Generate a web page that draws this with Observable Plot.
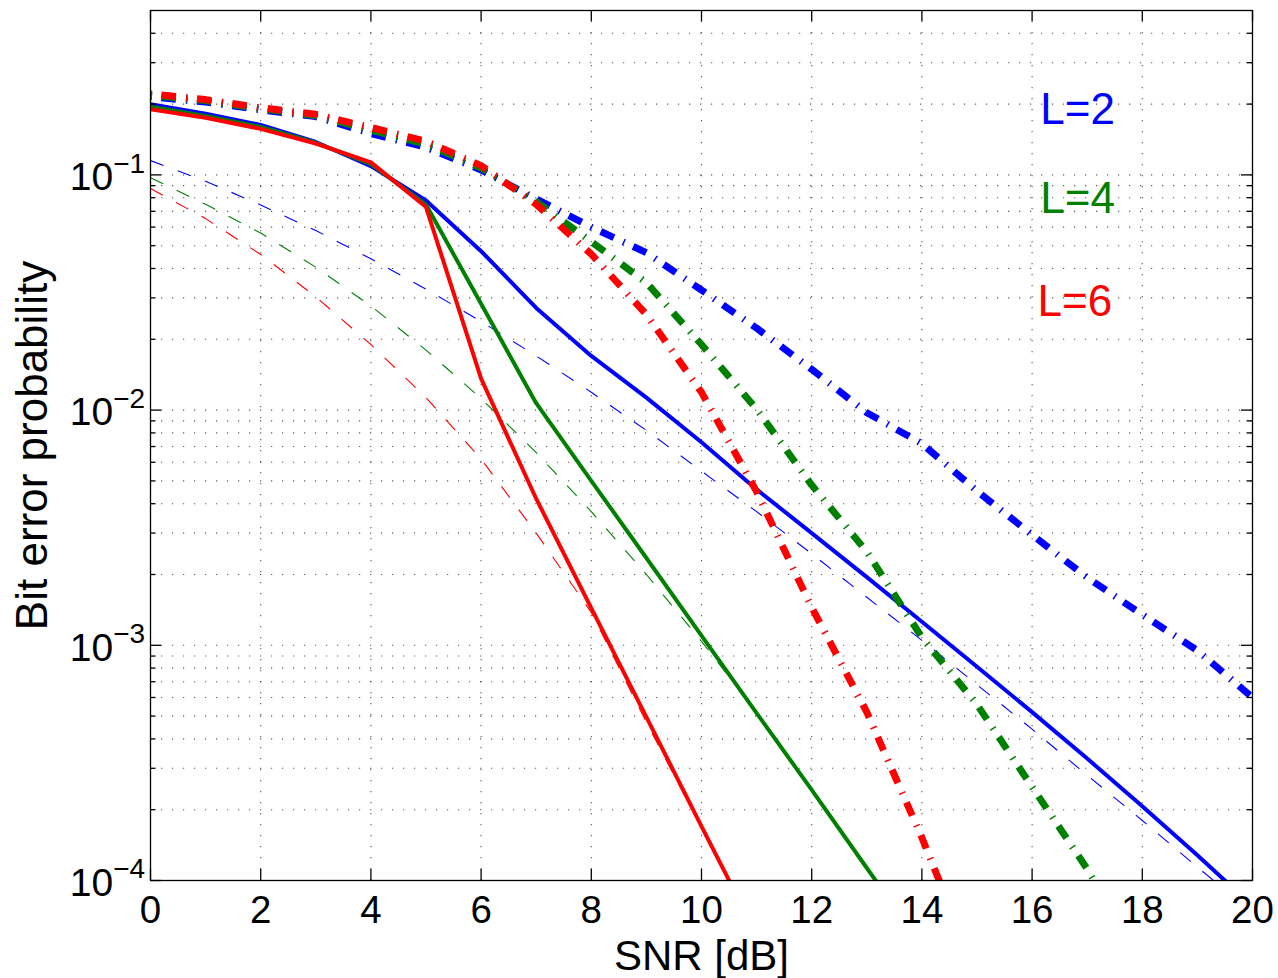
<!DOCTYPE html>
<html><head><meta charset="utf-8">
<script src="https://cdn.jsdelivr.net/npm/d3@7"></script>
<script src="https://cdn.jsdelivr.net/npm/@observablehq/plot@0.6"></script>
<style>html,body{margin:0;padding:0;background:#fff;} svg{display:block}</style>
</head><body><div id="chart"></div>
<script>
// ---- data ----
const snr = [0,1,2,3,4,5,6,7,8,9,10,11,12,13,14,15,16,17,18,19,20];

// thin dashed curves
const blueDashed  = [0.115, 0.094, 0.0745, 0.058, 0.044, 0.0327, 0.0238, 0.0170, 0.0119, 0.0082, 0.0055, 0.0037, 0.00245, 0.0016, 0.00105, 0.00068, 0.00044, 0.00028, 0.00018, 0.000114, 0.000073];
const greenDashed = [0.0973, 0.075, 0.0566, 0.0405, 0.0277, 0.0180, 0.0112, 0.0066, 0.0037, 0.0020, 0.00104, 0.00052, 0.000247, 0.000114, 0.000052];
const redDashed   = [0.0875, 0.0652, 0.0459, 0.0303, 0.0190, 0.0113, 0.0062, 0.0030, 0.00138, 0.00047, 0.000168, 0.000060];

// thick solid curves
const blueSolid  = [0.200, 0.182, 0.163, 0.138, 0.109, 0.0778, 0.0474, 0.0272, 0.0170, 0.0113, 0.0073, 0.0046, 0.0030, 0.00195, 0.00126, 0.00081, 0.00052, 0.00033, 0.000207, 0.000128, 0.000078];
const greenSolid = [0.195, 0.178, 0.160, 0.137, 0.111, 0.0748, 0.0283, 0.0107, 0.0050, 0.00235, 0.00110, 0.000515, 0.000243, 0.000113, 0.000053];
const redSolid   = [0.190, 0.175, 0.157, 0.136, 0.113, 0.0730, 0.0136, 0.0042, 0.00144, 0.000495, 0.000170, 0.000059];

// thick dash-dot curves
const blueDashDot  = [0.215, 0.204, 0.189, 0.177, 0.150, 0.131, 0.105, 0.079, 0.060, 0.0467, 0.0324, 0.0223, 0.0149, 0.00975, 0.0072, 0.00453, 0.00295, 0.00194, 0.00135, 0.00095, 0.00060];
const greenDashDot = [0.218, 0.207, 0.191, 0.179, 0.155, 0.135, 0.107, 0.077, 0.052, 0.0348, 0.0190, 0.0101, 0.0048, 0.0025, 0.00108, 0.00056, 0.00025, 0.000112, 0.000045];
const redDashDot   = [0.221, 0.209, 0.193, 0.181, 0.159, 0.139, 0.1095, 0.075, 0.046, 0.0255, 0.0119, 0.0045, 0.00145, 0.00052, 0.000152, 0.000040];

// ticks and labels
const xTicks = [0,2,4,6,8,10,12,14,16,18,20];
const yMajorTicks = [0.1, 0.01, 0.001, 0.0001];
const yTickExponents = ["\u22121", "\u22122", "\u22123", "\u22124"];
const yMinorTicks = [0.0002,0.0003,0.0004,0.0005,0.0006,0.0007,0.0008,0.0009,
                     0.002,0.003,0.004,0.005,0.006,0.007,0.008,0.009,
                     0.02,0.03,0.04,0.05,0.06,0.07,0.08,0.09,
                     0.2,0.3,0.4];
const annotText = ["L=2", "L=4", "L=6"];
const annotSnr  = [16.15, 16.15, 16.1];
const annotBer  = [0.189, 0.0794, 0.0288];
const xLabel = "SNR [dB]";
const yLabel = "Bit error probability";

// ---- layout & style ----
const W = 1278, H = 978, mL = 150, mR = 26, mT = 10, mB = 98;
const innerW = W - mL - mR, innerH = H - mT - mB;
const BLUE = "#0000ff", GREEN = "#008000", RED = "#ff0000";
const annotColors = [BLUE, GREEN, RED];
const pts = values => values.map((p, i) => ({snr: snr[i], p}));

const thin = (values, color) => Plot.line(pts(values), {x: "snr", y: "p", stroke: color, strokeWidth: 1.1,
  strokeDasharray: "14,15", strokeLinecap: "butt", clip: true});
const solid = (values, color) => Plot.line(pts(values), {x: "snr", y: "p", stroke: color, strokeWidth: 4,
  strokeLinecap: "butt", strokeLinejoin: "miter", clip: true});
const dashDot = (values, color) => Plot.line(pts(values), {x: "snr", y: "p", stroke: color, strokeWidth: 7,
  strokeDasharray: "1.5,9.5,14.5,10.2", strokeLinecap: "butt", strokeLinejoin: "miter", clip: true});

const gridStyle = {stroke: "#000", strokeOpacity: 0.65, strokeWidth: 1.1, strokeDasharray: "1.2,9.8"};
const tickStyle = {stroke: "#000", strokeWidth: 1.3};

const chart = Plot.plot({
  width: W, height: H,
  marginLeft: mL, marginRight: mR, marginTop: mT, marginBottom: mB,
  style: {fontFamily: "'Liberation Sans', Arial, Helvetica, sans-serif", background: "#fff", color: "#000", overflow: "visible"},
  x: {domain: [0, 20], axis: null},
  y: {type: "log", domain: [0.0001, 0.5], axis: null},
  marks: [
    // dotted grid
    Plot.ruleX(xTicks, {x: d => d, ...gridStyle}),
    Plot.ruleY(yMinorTicks.concat(yMajorTicks), {y: d => d, ...gridStyle}),
    // curves
    thin(blueDashed, BLUE), solid(blueSolid, BLUE), dashDot(blueDashDot, BLUE),
    thin(greenDashed, GREEN), solid(greenSolid, GREEN), dashDot(greenDashDot, GREEN),
    thin(redDashed, RED), solid(redSolid, RED), dashDot(redDashDot, RED),
    // box
    Plot.frame({stroke: "#000", strokeWidth: 1.3}),
    // inward ticks
    Plot.ruleX(xTicks, {x: d => d, insetTop: innerH - 11, ...tickStyle}),
    Plot.ruleX(xTicks, {x: d => d, insetBottom: innerH - 11, ...tickStyle}),
    Plot.ruleY(yMajorTicks, {y: d => d, insetRight: innerW - 11, ...tickStyle}),
    Plot.ruleY(yMajorTicks, {y: d => d, insetLeft: innerW - 11, ...tickStyle}),
    Plot.ruleY(yMinorTicks, {y: d => d, insetRight: innerW - 5.5, ...tickStyle}),
    Plot.ruleY(yMinorTicks, {y: d => d, insetLeft: innerW - 5.5, ...tickStyle}),
    // tick labels
    Plot.text(xTicks, {x: d => d, text: d => `${d}`, frameAnchor: "bottom", lineAnchor: "top", dy: 15.5, fontSize: 38.5}),
    Plot.text(yMajorTicks, {y: d => d, text: () => "10", frameAnchor: "left", textAnchor: "end", lineAnchor: "bottom", dx: -37.3, dy: 15.3, fontSize: 39}),
    Plot.text(yMajorTicks, {y: d => d, text: (d, i) => yTickExponents[i], frameAnchor: "left", textAnchor: "start", lineAnchor: "bottom", dx: -37.3, dy: -2.3, fontSize: 28}),
    // axis labels
    Plot.text([xLabel], {text: d => d, frameAnchor: "bottom", textAnchor: "middle", lineAnchor: "bottom", dy: 89.5, fontSize: 42}),
    Plot.text([yLabel], {text: d => d, frameAnchor: "left", textAnchor: "middle", lineAnchor: "bottom", rotate: -90, dx: -104, fontSize: 44}),
    // annotations
    Plot.text(annotText, {x: (d, i) => annotSnr[i], y: (d, i) => annotBer[i], text: d => d, fill: (d, i) => annotColors[i],
      textAnchor: "start", lineAnchor: "middle", fontSize: 44})
  ]
});
document.getElementById("chart").appendChild(chart);
</script>
</body></html>
